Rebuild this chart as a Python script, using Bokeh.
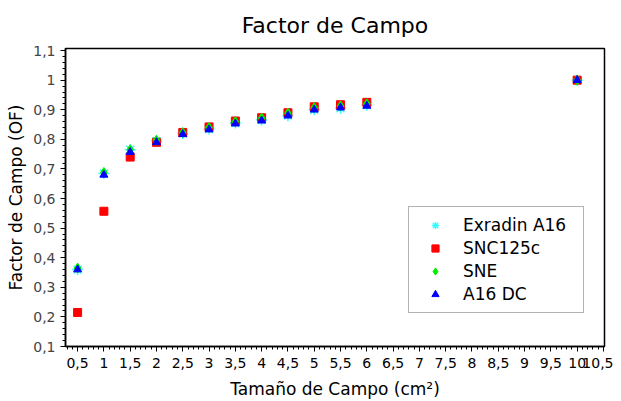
from bokeh.plotting import figure
from bokeh.models import FixedTicker, CustomJSTickFormatter, Range1d, Legend, LegendItem
from bokeh.embed import file_html
from bokeh.resources import INLINE

tamano = [0.5, 1, 1.5, 2, 2.5, 3, 3.5, 4, 4.5, 5, 5.5, 6, 10]
exradin_a16 = [0.360, 0.685, 0.765, 0.795, 0.820, 0.835, 0.855, 0.865, 0.880, 0.900, 0.905, 0.915, 1.000]
snc125c = [0.215, 0.557, 0.740, 0.790, 0.823, 0.842, 0.862, 0.873, 0.890, 0.910, 0.917, 0.925, 1.000]
sne = [0.365, 0.688, 0.765, 0.797, 0.823, 0.840, 0.860, 0.872, 0.888, 0.907, 0.913, 0.920, 1.000]
a16_dc = [0.360, 0.680, 0.757, 0.790, 0.817, 0.833, 0.853, 0.863, 0.880, 0.900, 0.907, 0.913, 1.000]

x_ticks = [0.5 * i for i in range(1, 22)]
x_minor = [round(0.1 * i, 2) for i in range(3, 106)]
y_ticks = [round(0.1 * i, 2) for i in range(1, 12)]
y_minor = [round(0.02 * i, 2) for i in range(5, 56)]

FONT = "DejaVu Sans"

p = figure(width=613, height=401, output_backend="svg", toolbar_location=None,
           x_range=Range1d(0.27, 10.52), y_range=Range1d(0.1, 1.107),
           min_border_left=65, min_border_right=9, min_border_top=47, min_border_bottom=51)

p.title.text = "Factor de Campo"
p.title.align = "center"
p.title.text_font = FONT
p.title.text_font_size = "22px"
p.title.text_font_style = "normal"
p.title.text_color = "black"
p.title.standoff = 21

p.grid.visible = False
p.outline_line_color = "black"
p.outline_line_width = 1.5

fmt = CustomJSTickFormatter(code="return String(Number(tick.toFixed(2))).replace('.', ',');")

p.xaxis.ticker = FixedTicker(ticks=x_ticks, minor_ticks=x_minor)
p.yaxis.ticker = FixedTicker(ticks=y_ticks, minor_ticks=y_minor)
p.xaxis.formatter = fmt
p.yaxis.formatter = fmt

for ax in (p.xaxis[0], p.yaxis[0]):
    ax.axis_line_color = "black"
    ax.axis_line_width = 1.5
    ax.major_tick_in = 0
    ax.major_tick_out = 5
    ax.minor_tick_in = 0
    ax.minor_tick_out = 3
    ax.major_tick_line_color = "black"
    ax.minor_tick_line_color = "black"
    ax.major_label_text_font = FONT
    ax.major_label_text_font_size = "14px"
    ax.axis_label_text_font = FONT
    ax.axis_label_text_font_size = "17px"
    ax.axis_label_text_font_style = "normal"
    ax.axis_label_text_color = "black"

p.xaxis.major_label_text_color = "black"
p.yaxis.major_label_text_color = "#444444"
p.xaxis.axis_label = "Tamaño de Campo (cm²)"
p.yaxis.axis_label = "Factor de Campo (OF)"
p.xaxis.major_label_standoff = 6
p.xaxis.axis_label_standoff = 8
p.yaxis.axis_label_standoff = 4

r1 = p.scatter(tamano, exradin_a16, marker="asterisk", size=11, line_color="#33FFFF", line_width=1.5)
r2 = p.scatter(tamano, snc125c, marker="square", size=8, fill_color="red", line_color="red")
r3 = p.scatter(tamano, sne, marker="diamond", size=10, fill_color="#00EE00", line_color="#00EE00")
r4 = p.scatter(tamano, a16_dc, marker="triangle", size=8, fill_color="blue", line_color="blue")

legend = Legend(items=[
    LegendItem(label="Exradin A16", renderers=[r1]),
    LegendItem(label="SNC125c", renderers=[r2]),
    LegendItem(label="SNE", renderers=[r3]),
    LegendItem(label="A16 DC", renderers=[r4]),
], location=(343, 33))
legend.label_text_font = FONT
legend.label_text_font_size = "17px"
legend.label_text_color = "black"
legend.padding = 8
legend.spacing = 3
legend.margin = 0
legend.glyph_width = 36
legend.glyph_height = 18
legend.label_height = 20
legend.label_width = 112
legend.label_standoff = 10
legend.border_line_color = "#666666"
legend.border_line_width = 1.5
legend.background_fill_alpha = 1.0
p.add_layout(legend, "center")

open("out.html", "w").write(file_html(p, INLINE))
